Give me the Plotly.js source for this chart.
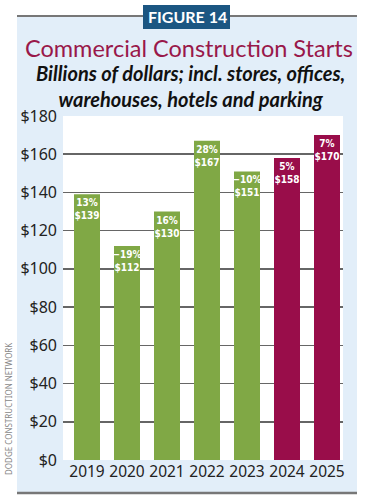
<!DOCTYPE html>
<html>
<head>
<meta charset="utf-8">
<script src="https://cdn.plot.ly/plotly-3.0.1.min.js"></script>
<style>html,body{margin:0;padding:0;background:#fff;}#chart{width:368px;height:500px;}</style>
</head>
<body>
<div id="chart"></div>
<script>
const years = ["2019", "2020", "2021", "2022", "2023", "2024", "2025"];
const values = [139, 112, 130, 167, 151, 158, 170];
const changes = ["13%", "\u221219%", "16%", "28%", "\u221210%", "5%", "7%"];
const barColors = ["#80a845", "#80a845", "#80a845", "#80a845", "#80a845", "#990d4a", "#990d4a"];
const yTicks = [0, 20, 40, 60, 80, 100, 120, 140, 160, 180];

const W = 368, H = 500, ML = 63, MR = 25, MT = 116, MB = 40;
const PW = W - ML - MR, PH = H - MT - MB;
const px = x => (x - ML) / PW;
const py = y => (H - MB - y) / PH;

const labels = values.map((v, i) => "<b>" + changes[i] + "<br>$" + v + "</b>");

const trace = {
  type: "bar",
  x: years.map((_, i) => i),
  y: values,
  marker: {color: barColors, line: {width: 0}},
  width: 0.65,
  text: labels,
  textposition: "inside",
  insidetextanchor: "end",
  textangle: 0,
  constraintext: "none",
  textfont: {family: "Liberation Sans Narrow, DejaVu Sans Condensed, sans-serif", size: 10, color: "#ffffff"},
  hoverinfo: "skip"
};

const layout = {
  width: W, height: H,
  margin: {l: ML, r: MR, t: MT, b: MB},
  paper_bgcolor: "#ffffff",
  plot_bgcolor: "rgba(0,0,0,0)",
  showlegend: false,
  xaxis: {
    range: [-0.6, 6.4],
    tickmode: "array",
    tickvals: years.map((_, i) => i),
    ticktext: years,
    showgrid: false, zeroline: false, showline: false,
    ticks: "",
    tickfont: {family: "Noto Sans, sans-serif", size: 15.5, color: "#222"},
    fixedrange: true
  },
  yaxis: {
    range: [0, 180],
    tickmode: "array",
    tickvals: yTicks,
    ticktext: yTicks.map(v => "$" + v),
    showgrid: true, gridcolor: "#666666", gridwidth: 1.5,
    zeroline: false, showline: false,
    ticks: "",
    ticklabelstandoff: 5,
    tickfont: {family: "Noto Sans, sans-serif", size: 16, color: "#222"},
    fixedrange: true
  },
  shapes: [
    {type: "rect", xref: "paper", yref: "paper", x0: px(17), x1: px(357), y0: py(492), y1: py(17), fillcolor: "#e2eef9", line: {width: 0}, layer: "below"},
    {type: "rect", xref: "paper", yref: "paper", x0: px(63), x1: px(343), y0: py(460), y1: py(116), fillcolor: "#ffffff", line: {width: 0}, layer: "below"},
    {type: "line", xref: "paper", yref: "paper", x0: px(17), x1: px(357), y0: py(16), y1: py(16), line: {color: "#777", width: 2}},
    {type: "line", xref: "paper", yref: "paper", x0: px(17), x1: px(357), y0: py(493), y1: py(493), line: {color: "#777", width: 2.5}},
    {type: "rect", xref: "paper", yref: "paper", x0: px(143), x1: px(230), y0: py(29), y1: py(5), fillcolor: "#1b5682", line: {width: 0}}
  ],
  annotations: [
    {xref: "paper", yref: "paper", x: px(187), y: py(17), text: "<b>FIGURE 14</b>", showarrow: false, xanchor: "center", yanchor: "middle",
     font: {family: "Lato, sans-serif", size: 16, color: "#ffffff"}},
    {xref: "paper", yref: "paper", x: px(189), y: py(48), text: "Commercial Construction Starts", showarrow: false, xanchor: "center", yanchor: "middle",
     font: {family: "Lato, sans-serif", size: 23.5, color: "#99184a"}},
    {xref: "paper", yref: "paper", x: px(190), y: py(86), text: "<b><i>Billions of dollars; incl. stores, offices,<br>warehouses, hotels and parking</i></b>", showarrow: false, xanchor: "center", yanchor: "middle",
     font: {family: "Lato, sans-serif", size: 20, color: "#111"}},
    {xref: "paper", yref: "paper", x: px(8), y: py(409), text: "DODGE CONSTRUCTION NETWORK", showarrow: false, textangle: -90, xanchor: "center", yanchor: "middle",
     font: {family: "Noto Sans, sans-serif", size: 8, color: "#888"}}
  ]
};

Plotly.newPlot("chart", [trace], layout, {displayModeBar: false, staticPlot: true});
</script>
</body>
</html>
